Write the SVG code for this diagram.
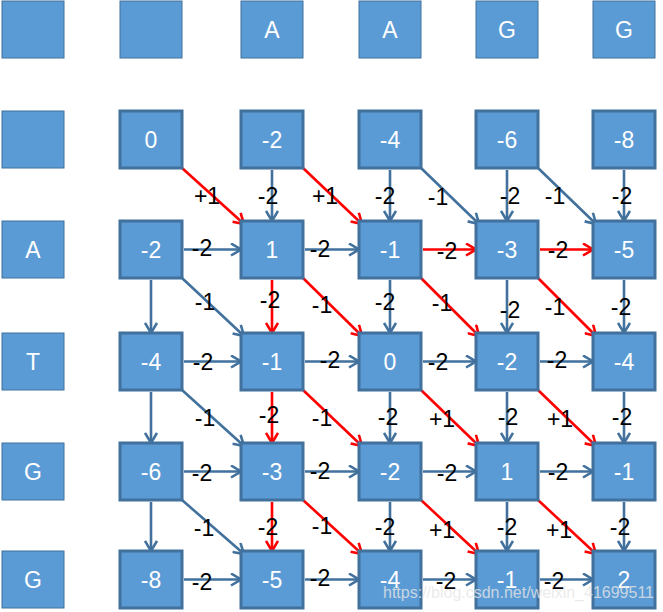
<svg xmlns="http://www.w3.org/2000/svg" width="663" height="612" viewBox="0 0 663 612">
<style>
.hdr{fill:#5B9BD5;stroke:#41719C;stroke-width:1}
.cell{fill:#5B9BD5;stroke:#41719C;stroke-width:3}
.t{font-family:"Liberation Sans",Arial,sans-serif;font-size:23px;fill:#fff;text-anchor:middle}
.b{stroke:#41719C;stroke-width:2.6;fill:none;marker-end:url(#ab)}
.r{stroke:#FF0000;stroke-width:2.6;fill:none;marker-end:url(#ar)}
.l{font-family:"Liberation Sans",Arial,sans-serif;font-size:23px;fill:#000;text-anchor:middle}
.wm{font-family:"Liberation Sans",Arial,sans-serif;font-size:16px;fill:#e6e6e6;fill-opacity:0.8}
</style>
<defs>
<marker id="ab" viewBox="0 0 12 14" refX="11" refY="7" markerWidth="12" markerHeight="14" markerUnits="userSpaceOnUse" orient="auto"><path d="M1,1 L11,7 L1,13" fill="none" stroke="#41719C" stroke-width="2.6"/></marker>
<marker id="ar" viewBox="0 0 12 14" refX="11" refY="7" markerWidth="12" markerHeight="14" markerUnits="userSpaceOnUse" orient="auto"><path d="M1,1 L11,7 L1,13" fill="none" stroke="#FF0000" stroke-width="2.6"/></marker>
</defs>

<g id="headers">
<g id="h00"><rect class="hdr" x="2" y="1" width="62" height="57"/></g>
<g id="h01"><rect class="hdr" x="120" y="1" width="62" height="57"/></g>
<g id="h02"><rect class="hdr" x="241" y="1" width="62" height="57"/><text class="t" x="272" y="38">A</text></g>
<g id="h03"><rect class="hdr" x="359" y="1" width="62" height="57"/><text class="t" x="390" y="38">A</text></g>
<g id="h04"><rect class="hdr" x="476" y="1" width="62" height="57"/><text class="t" x="507" y="38">G</text></g>
<g id="h05"><rect class="hdr" x="593" y="1" width="62" height="57"/><text class="t" x="624" y="38">G</text></g>
<g id="h10"><rect class="hdr" x="2" y="111" width="62" height="57"/></g>
<g id="h20"><rect class="hdr" x="2" y="221" width="62" height="57"/><text class="t" x="33" y="258">A</text></g>
<g id="h30"><rect class="hdr" x="2" y="333" width="62" height="57"/><text class="t" x="33" y="370">T</text></g>
<g id="h40"><rect class="hdr" x="2" y="443" width="62" height="57"/><text class="t" x="33" y="480">G</text></g>
<g id="h50"><rect class="hdr" x="2" y="551" width="62" height="57"/><text class="t" x="33" y="588">G</text></g>
</g>

<g id="connectors">
<!-- row 0 to row 1 -->
<line class="r" x1="182" y1="168" x2="244" y2="224"/>
<line class="b" x1="272" y1="170" x2="272" y2="221"/>
<line class="r" x1="303" y1="168" x2="362" y2="224"/>
<line class="b" x1="390" y1="170" x2="390" y2="221"/>
<line class="b" x1="421" y1="168" x2="479" y2="224"/>
<line class="b" x1="507" y1="170" x2="507" y2="221"/>
<line class="b" x1="538" y1="168" x2="596" y2="224"/>
<line class="b" x1="624" y1="170" x2="624" y2="221"/>
<!-- row 1 horizontals -->
<line class="b" x1="184" y1="249.5" x2="241" y2="249.5"/>
<line class="b" x1="305" y1="249.5" x2="359" y2="249.5"/>
<line class="r" x1="423" y1="249.5" x2="476" y2="249.5"/>
<line class="r" x1="540" y1="249.5" x2="593" y2="249.5"/>
<!-- row 1 to row 2 -->
<line class="b" x1="151" y1="280" x2="151" y2="333"/>
<line class="b" x1="182" y1="278" x2="244" y2="336"/>
<line class="r" x1="272" y1="280" x2="272" y2="333"/>
<line class="r" x1="303" y1="278" x2="362" y2="336"/>
<line class="b" x1="390" y1="280" x2="390" y2="333"/>
<line class="r" x1="421" y1="278" x2="479" y2="336"/>
<line class="b" x1="507" y1="280" x2="507" y2="333"/>
<line class="r" x1="538" y1="278" x2="596" y2="336"/>
<line class="b" x1="624" y1="280" x2="624" y2="333"/>
<!-- row 2 horizontals -->
<line class="b" x1="184" y1="361.5" x2="241" y2="361.5"/>
<line class="b" x1="305" y1="361.5" x2="359" y2="361.5"/>
<line class="b" x1="423" y1="361.5" x2="476" y2="361.5"/>
<line class="b" x1="540" y1="361.5" x2="593" y2="361.5"/>
<!-- row 2 to row 3 -->
<line class="b" x1="151" y1="392" x2="151" y2="443"/>
<line class="b" x1="182" y1="390" x2="244" y2="446"/>
<line class="r" x1="272" y1="392" x2="272" y2="443"/>
<line class="r" x1="303" y1="390" x2="362" y2="446"/>
<line class="b" x1="390" y1="392" x2="390" y2="443"/>
<line class="r" x1="421" y1="390" x2="479" y2="446"/>
<line class="b" x1="507" y1="392" x2="507" y2="443"/>
<line class="r" x1="538" y1="390" x2="596" y2="446"/>
<line class="b" x1="624" y1="392" x2="624" y2="443"/>
<!-- row 3 horizontals -->
<line class="b" x1="184" y1="471.5" x2="241" y2="471.5"/>
<line class="b" x1="305" y1="471.5" x2="359" y2="471.5"/>
<line class="b" x1="423" y1="471.5" x2="476" y2="471.5"/>
<line class="b" x1="540" y1="471.5" x2="593" y2="471.5"/>
<!-- row 3 to row 4 -->
<line class="b" x1="151" y1="502" x2="151" y2="551"/>
<line class="b" x1="182" y1="500" x2="244" y2="554"/>
<line class="r" x1="272" y1="502" x2="272" y2="551"/>
<line class="r" x1="303" y1="500" x2="362" y2="554"/>
<line class="b" x1="390" y1="502" x2="390" y2="551"/>
<line class="r" x1="421" y1="500" x2="479" y2="554"/>
<line class="b" x1="507" y1="502" x2="507" y2="551"/>
<line class="r" x1="538" y1="500" x2="596" y2="554"/>
<line class="b" x1="624" y1="502" x2="624" y2="551"/>
<!-- row 4 horizontals -->
<line class="b" x1="184" y1="579.5" x2="241" y2="579.5"/>
<line class="b" x1="305" y1="579.5" x2="359" y2="579.5"/>
<line class="b" x1="423" y1="579.5" x2="476" y2="579.5"/>
<line class="b" x1="540" y1="579.5" x2="593" y2="579.5"/>
</g>

<g id="cells">
<g id="c00"><rect class="cell" x="120" y="111" width="62" height="57"/><text class="t" x="151" y="148">0</text></g>
<g id="c01"><rect class="cell" x="241" y="111" width="62" height="57"/><text class="t" x="272" y="148">-2</text></g>
<g id="c02"><rect class="cell" x="359" y="111" width="62" height="57"/><text class="t" x="390" y="148">-4</text></g>
<g id="c03"><rect class="cell" x="476" y="111" width="62" height="57"/><text class="t" x="507" y="148">-6</text></g>
<g id="c04"><rect class="cell" x="593" y="111" width="62" height="57"/><text class="t" x="624" y="148">-8</text></g>
<g id="c10"><rect class="cell" x="120" y="221" width="62" height="57"/><text class="t" x="151" y="258">-2</text></g>
<g id="c11"><rect class="cell" x="241" y="221" width="62" height="57"/><text class="t" x="272" y="258">1</text></g>
<g id="c12"><rect class="cell" x="359" y="221" width="62" height="57"/><text class="t" x="390" y="258">-1</text></g>
<g id="c13"><rect class="cell" x="476" y="221" width="62" height="57"/><text class="t" x="507" y="258">-3</text></g>
<g id="c14"><rect class="cell" x="593" y="221" width="62" height="57"/><text class="t" x="624" y="258">-5</text></g>
<g id="c20"><rect class="cell" x="120" y="333" width="62" height="57"/><text class="t" x="151" y="370">-4</text></g>
<g id="c21"><rect class="cell" x="241" y="333" width="62" height="57"/><text class="t" x="272" y="370">-1</text></g>
<g id="c22"><rect class="cell" x="359" y="333" width="62" height="57"/><text class="t" x="390" y="370">0</text></g>
<g id="c23"><rect class="cell" x="476" y="333" width="62" height="57"/><text class="t" x="507" y="370">-2</text></g>
<g id="c24"><rect class="cell" x="593" y="333" width="62" height="57"/><text class="t" x="624" y="370">-4</text></g>
<g id="c30"><rect class="cell" x="120" y="443" width="62" height="57"/><text class="t" x="151" y="480">-6</text></g>
<g id="c31"><rect class="cell" x="241" y="443" width="62" height="57"/><text class="t" x="272" y="480">-3</text></g>
<g id="c32"><rect class="cell" x="359" y="443" width="62" height="57"/><text class="t" x="390" y="480">-2</text></g>
<g id="c33"><rect class="cell" x="476" y="443" width="62" height="57"/><text class="t" x="507" y="480">1</text></g>
<g id="c34"><rect class="cell" x="593" y="443" width="62" height="57"/><text class="t" x="624" y="480">-1</text></g>
<g id="c40"><rect class="cell" x="120" y="551" width="62" height="57"/><text class="t" x="151" y="588">-8</text></g>
<g id="c41"><rect class="cell" x="241" y="551" width="62" height="57"/><text class="t" x="272" y="588">-5</text></g>
<g id="c42"><rect class="cell" x="359" y="551" width="62" height="57"/><text class="t" x="390" y="588">-4</text></g>
<g id="c43"><rect class="cell" x="476" y="551" width="62" height="57"/><text class="t" x="507" y="588">-1</text></g>
<g id="c44"><rect class="cell" x="593" y="551" width="62" height="57"/><text class="t" x="624" y="588">2</text></g>
</g>

<g id="labels">
<text class="l" x="207" y="204">+1</text>
<text class="l" x="268" y="204">-2</text>
<text class="l" x="325" y="204">+1</text>
<text class="l" x="385" y="204">-2</text>
<text class="l" x="438" y="205">-1</text>
<text class="l" x="510" y="204">-2</text>
<text class="l" x="555" y="204">-1</text>
<text class="l" x="622" y="204">-2</text>

<text class="l" x="202" y="256">-2</text>
<text class="l" x="320" y="257">-2</text>
<text class="l" x="447" y="259">-2</text>
<text class="l" x="558" y="258">-2</text>

<text class="l" x="205" y="310">-1</text>
<text class="l" x="270" y="308">-2</text>
<text class="l" x="322" y="313">-1</text>
<text class="l" x="385" y="310">-2</text>
<text class="l" x="442" y="311">-1</text>
<text class="l" x="510" y="318">-2</text>
<text class="l" x="555" y="315">-1</text>
<text class="l" x="621" y="315">-2</text>

<text class="l" x="203" y="370">-2</text>
<text class="l" x="330" y="368">-2</text>
<text class="l" x="438" y="370">-2</text>
<text class="l" x="557" y="368">-2</text>

<text class="l" x="205" y="426">-1</text>
<text class="l" x="269" y="423">-2</text>
<text class="l" x="322" y="426">-1</text>
<text class="l" x="388" y="425">-2</text>
<text class="l" x="442" y="427">+1</text>
<text class="l" x="508" y="425">-2</text>
<text class="l" x="560" y="427">+1</text>
<text class="l" x="622" y="425">-2</text>

<text class="l" x="202" y="481">-2</text>
<text class="l" x="320" y="479">-2</text>
<text class="l" x="447" y="481">-2</text>
<text class="l" x="558" y="480">-2</text>

<text class="l" x="204" y="536">-1</text>
<text class="l" x="268" y="535">-2</text>
<text class="l" x="322" y="534">-1</text>
<text class="l" x="385" y="535">-2</text>
<text class="l" x="442" y="538">+1</text>
<text class="l" x="507" y="535">-2</text>
<text class="l" x="559" y="538">+1</text>
<text class="l" x="620" y="535">-2</text>

<text class="l" x="202" y="590">-2</text>
<text class="l" x="320" y="586">-2</text>
<text class="l" x="446" y="589">-2</text>
<text class="l" x="554" y="589">-2</text>
</g>

<text class="wm" x="383" y="598">https://blog.csdn.net/weixin_41699511</text>
</svg>
